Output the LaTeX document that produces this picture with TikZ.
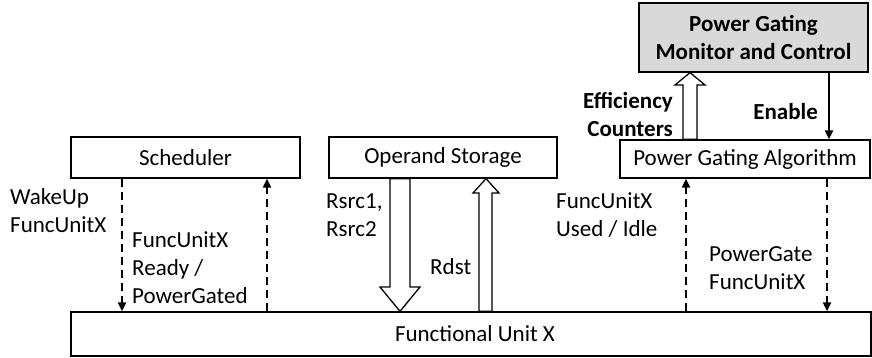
\documentclass[tikz,border=0pt]{standalone}
\usepackage{fontspec}
\setmainfont{Carlito}
\usetikzlibrary{arrows.meta,calc}
\begin{document}
\begin{tikzpicture}[x=1pt,y=-1pt,
  every node/.style={font=\fontsize{23}{28}\selectfont, inner sep=0pt},
  blk/.style={draw, line width=1.3pt, fill=white},
  lbl/.style={align=left, anchor=west},
  dsh/.style={line width=2pt, dash pattern=on 8pt off 5pt, -{Triangle[width=8pt,length=9pt]}},
  hollow/.style={draw, line width=1.3pt, fill=white, line join=miter},
]
\useasboundingbox (0,0) rectangle (872,358);
% boxes
\node[blk, minimum width=229pt, minimum height=41pt] (sched) at (185.5,157.5) {Scheduler};
\node[blk, minimum width=228pt, minimum height=41pt] (opst) at (443,157.5) {Operand Storage};
\node[blk, minimum width=250pt, minimum height=38pt] (pga) at (745,159) {Power Gating Algorithm};
\node[blk, fill=black!15, minimum width=229pt, minimum height=69pt, align=center, font=\fontsize{23}{28}\selectfont\bfseries] (pgmc) at (753.5,37.5) {Power Gating\\Monitor and Control};
\node[blk, minimum width=800pt, minimum height=44pt] (fu) at (471,334) {};
\node at (475,334) {Functional Unit X};
% scheduler arrows
\draw[dsh] (122,0 |- sched.south) -- (122,0 |- fu.north);
\draw[dsh] (267,0 |- fu.north) -- (267,0 |- sched.south);
\node[lbl] (wake) at (10,211) {WakeUp\\FuncUnitX};
\node[lbl] (ready) at (132,268) {FuncUnitX\\Ready /\\PowerGated};
% operand storage hollow arrows
\path[hollow] (390,0 |- opst.south) -- (410,0 |- opst.south) -- (410,287) -- (420,287)
  -- (400,0 |- fu.north) -- (380,287) -- (390,287) -- cycle;
\path[hollow] (479,0 |- fu.north) -- (479,193) -- (473,193) -- (486,0 |- opst.south)
  -- (499,193) -- (492,193) -- (492,0 |- fu.north) -- cycle;
\node[lbl] (rsrc) at (326,215) {Rsrc1,\\Rsrc2};
\node[lbl] (rdst) at (430,267) {Rdst};
\node[lbl] (used) at (556,215) {FuncUnitX\\Used / Idle};
% power gating arrows
\draw[dsh] (686,0 |- fu.north) -- (686,0 |- pga.south);
\draw[dsh] (827,0 |- pga.south) -- (827,0 |- fu.north);
\node[lbl] (pgate) at (709,268) {PowerGate\\FuncUnitX};
\path[hollow] (683,0 |- pga.north) -- (683,85) -- (675,85) -- (690,0 |- pgmc.south)
  -- (705,85) -- (697,85) -- (697,0 |- pga.north) -- cycle;
\draw[line width=2pt, -{Triangle[width=8pt,length=9pt]}] (829,0 |- pgmc.south) -- (829,0 |- pga.north);
\node[align=right, anchor=east, font=\fontsize{23}{28}\selectfont\bfseries] (eff) at (673,114) {Efficiency\\Counters};
\node[anchor=east, font=\fontsize{23}{28}\selectfont\bfseries] (en) at (818,112) {Enable};
\end{tikzpicture}
\end{document}
